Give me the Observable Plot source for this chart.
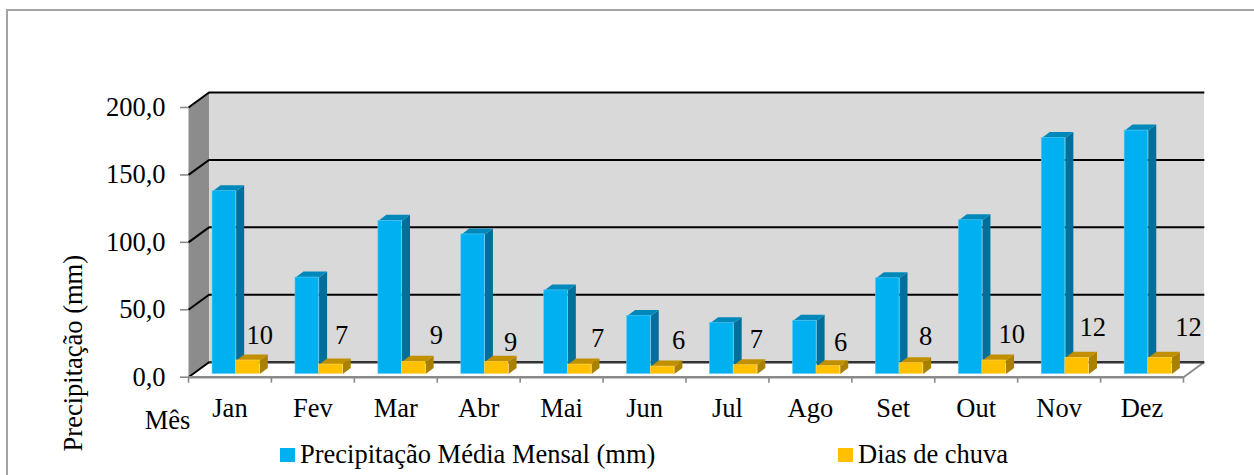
<!DOCTYPE html>
<html lang="pt">
<head>
<meta charset="utf-8">
<script src="https://cdn.jsdelivr.net/npm/d3@7"></script>
<script src="https://cdn.jsdelivr.net/npm/@observablehq/plot@0.6"></script>
<style>
html,body{margin:0;padding:0;background:#fff;overflow:hidden;width:1254px;height:475px}
#frame{position:absolute;left:5.5px;top:9px;right:-4px;bottom:-4px;border:2px solid #a3a3a3;box-sizing:border-box}
#chart{position:absolute;left:0;top:0}
#legend{position:absolute;left:0;top:0;font:26.5px "Liberation Serif",serif;color:#000;white-space:nowrap}
#legend span{position:absolute;line-height:30px}
#legend i{position:absolute;width:15px;height:14px}
</style>
</head>
<body>
<div id="frame"></div>
<div id="chart"></div>
<div id="legend">
  <i style="left:280px;top:448px;background:#00B0F0"></i><span style="left:300px;top:439px">Precipitação Média Mensal (mm)</span>
  <i style="left:838px;top:448px;background:#FFC000"></i><span style="left:858px;top:439px">Dias de chuva</span>
</div>
<script>
const months = ["Jan","Fev","Mar","Abr","Mai","Jun","Jul","Ago","Set","Out","Nov","Dez"];
const precipitation = [135.6,71.5,113.6,103.5,62,43,37.7,39.5,71,114,175,180.5];
const rainDays = [10,7,9,9,7,5.5,6.5,5.8,8,10,12,12];
const rainDayLabels = [10,7,9,9,7,6,7,6,8,10,12,12];
const yTicks = [0,50,100,150,200];

// hand-placed data-label anchors, in scale units
const labelShift = [.86,.846,.99,.884,.934,.91,.85,.865,.89,.93,.905,1.06];
const labelHeight = [24.8,24.8,24.8,19.6,22.6,20.7,21.5,19.3,24,25.6,30.7,30.7];

// pseudo-3D depth, in scale units
const wallDX = 20.5/82.9, wallDY = 15/1.35;
const barDX = 8/82.9, barDY = 6/1.35;
const barStart = .29, barW = .285;
const fontPx = 26.5;

const months_i = months.map((_, i) => i);
function faces(values, x0) {
  const side = [], top = [];
  values.forEach((v, i) => {
    const a = i + x0, b = a + barW;
    [[b,v],[b+barDX,v+barDY],[b+barDX,barDY],[b,0]].forEach(([x,y]) => side.push({x,y,z:i}));
    [[a,v],[a+barDX,v+barDY],[b+barDX,v+barDY],[b,v]].forEach(([x,y]) => top.push({x,y,z:i}));
  });
  return {side, top};
}
const blue = faces(precipitation, barStart);
const gold = faces(rainDays, barStart + barW);
const bars = (values, x0, fill) => Plot.rect(months_i, {
  x1: i => i + x0, x2: i => i + x0 + barW, y1: () => 0, y2: i => values[i],
  fill, dy: -3.2, stroke: fill === "#00B0F0" ? "#5fcdf5" : "#ffd760", strokeWidth: .6
});
const face = (pts, fill) => Plot.line(pts, {x:"x", y:"y", z:"z", fill, stroke:"none", dy:-3.2, curve:"linear"});

const backWall = [[wallDX,wallDY],[12+wallDX,wallDY],[12+wallDX,200+wallDY],[wallDX,200+wallDY]].map(([x,y]) => ({x,y}));
const sideWall = [[0,0],[wallDX,wallDY],[wallDX,200+wallDY],[0,200]].map(([x,y]) => ({x,y}));
const floorEdge = [{x1:12,y1:0,x2:12+wallDX,y2:wallDY}];

const chart = Plot.plot({
  width: 1254, height: 475,
  marginLeft: 188, marginRight: 71, marginTop: 107, marginBottom: 98.3,
  style: {fontFamily: '"Liberation Serif", serif', fontSize: fontPx + "px", background: "transparent", color:"#000"},
  x: {type:"linear", domain:[0,12]},
  y: {type:"linear", domain:[0,200]},
  marks: [
    Plot.line(backWall, {x:"x", y:"y", fill:"#D9D9D9", stroke:"none"}),
    Plot.line(sideWall, {x:"x", y:"y", fill:"#8C8C8C", stroke:"none"}),
    Plot.link(floorEdge, {x1:"x1", y1:"y1", x2:"x2", y2:"y2", stroke:"#8a8a8a", strokeWidth:2}),
    Plot.ruleY(yTicks.filter(v => v > 0), {x1:wallDX, x2:12+wallDX+.01, y:v => v + wallDY, stroke:"#000", strokeWidth:2}),
    Plot.ruleY([0], {x1:wallDX, x2:12+wallDX+.01, y:() => wallDY, stroke:"#333", strokeWidth:2.4}),
    Plot.link(yTicks, {x1:0, y1:v => v, x2:wallDX, y2:v => v + wallDY, stroke:"#000", strokeWidth:2}),
    Plot.ruleY([0], {x1:0, x2:12, stroke:"#8a8a8a", strokeWidth:2.4}),
    Plot.axisY({ticks:yTicks, tickSize:8, tickPadding:15, stroke:"#8a8a8a", strokeWidth:1.6,
      tickFormat:v => v.toFixed(1).replace(".", ","), fontSize:fontPx, label:null, fill:"#000"}),
    Plot.axisX({ticks:d3.range(0,13), tickSize:6, stroke:"#8a8a8a", strokeWidth:1.6, tickFormat:() => "", label:null}),
    Plot.axisX({ticks:months_i.map(i => i + .5), tickSize:0, tickPadding:21, tickFormat:v => months[v - .5], fontSize:fontPx, label:null, fill:"#000"}),
    face(blue.side, "#00709A"),
    face(blue.top, "#0088BA"),
    bars(precipitation, barStart, "#00B0F0"),
    face(gold.side, "#A98000"),
    face(gold.top, "#C09000"),
    bars(rainDays, barStart + barW, "#FFC000"),
    Plot.text(months_i, {x:i => i + labelShift[i], y:i => labelHeight[i], text:i => String(rainDayLabels[i]), lineAnchor:"bottom", fontSize:fontPx, fill:"#000"}),
    Plot.text(["Mês"], {x:() => 0, y:() => 0, dx:-21, dy:52, lineAnchor:"bottom", fontSize:fontPx, fill:"#000"}),
    Plot.text(["Precipitação (mm)"], {x:() => 0, y:() => 0, dx:-115, dy:-24, rotate:-90, fontSize:fontPx, fill:"#000"})
  ]
});
document.getElementById("chart").append(chart);
</script>
</body>
</html>
